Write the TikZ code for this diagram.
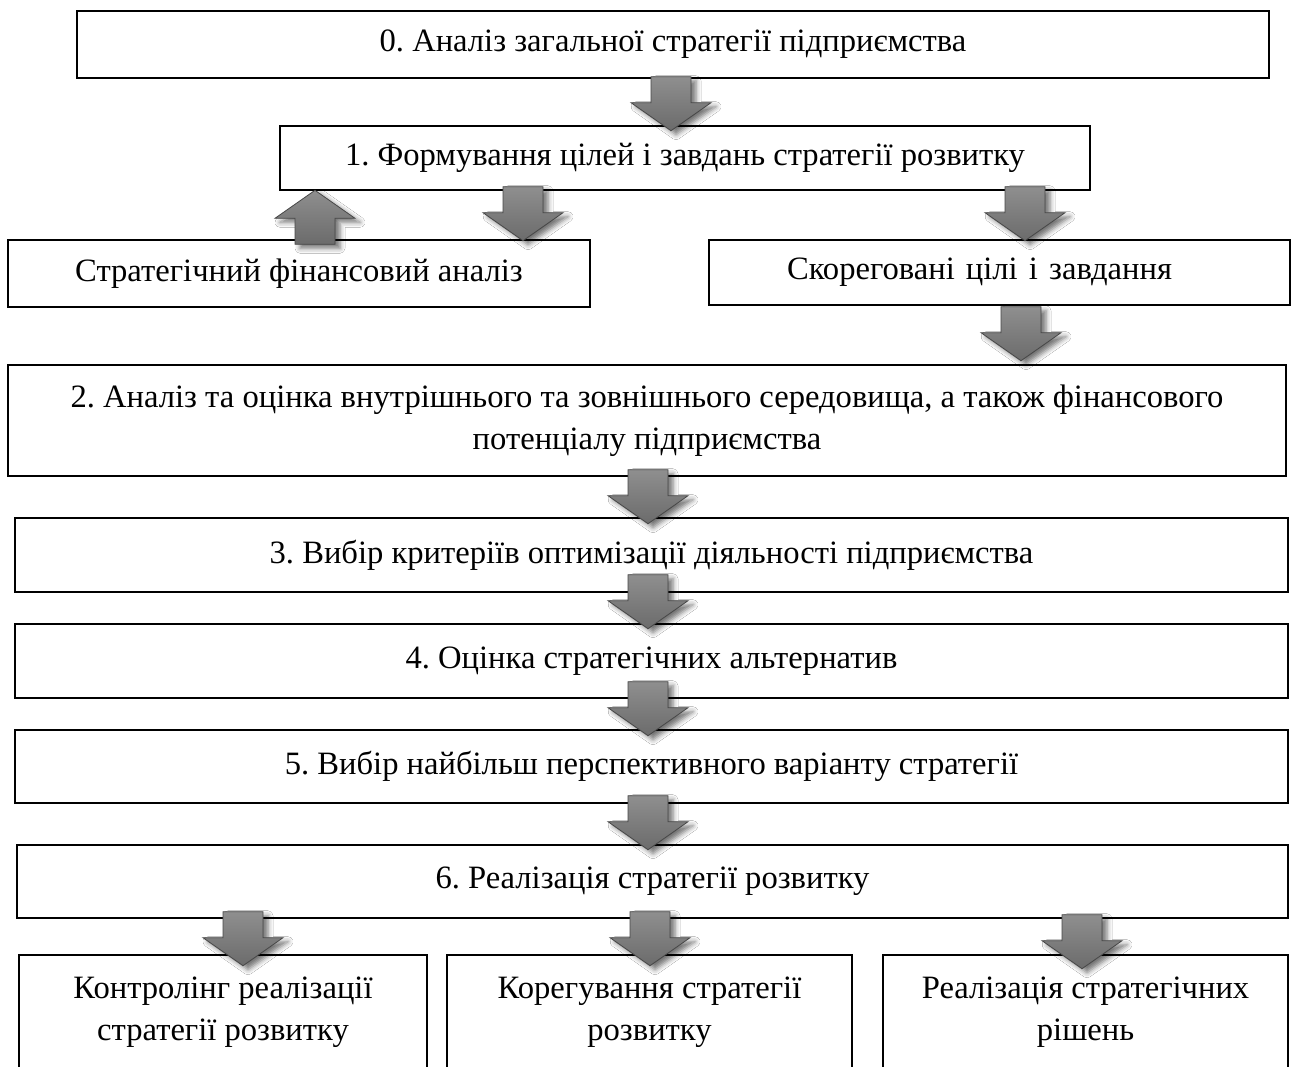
\documentclass[tikz,border=0pt]{standalone}
\usepackage{fontspec}
\setmainfont{Liberation Serif}
\usetikzlibrary{calc,shadows.blur}
\frenchspacing
\begin{document}
\begin{tikzpicture}[x=1pt,y=1pt,
  box/.style={draw=black, line width=2.6pt, fill=white, inner sep=0pt, align=center,
    font=\fontsize{32.6}{42}\selectfont},
  blockarrow/.style={draw=black!72, line width=0.8pt, top color=black!44, bottom color=black!58,
    blur shadow={shadow xshift=5pt, shadow yshift=-4pt, shadow blur radius=5pt, shadow opacity=55}},
  downarr/.pic={\path[blockarrow] (0,0) -- (-40,28) -- (-20,28) -- (-20,54) -- (20,54) -- (20,28) -- (40,28) -- cycle;},
  uparr/.pic={\path[blockarrow] (0,0) -- (-40,-28) -- (-20,-28) -- (-20,-54) -- (20,-54) -- (20,-28) -- (40,-28) -- cycle;}
]
\clip (0,0) rectangle (1297,-1066);
\fill[white] (0,0) rectangle (1297,-1066);

% boxes
\node[box, minimum width=1192, minimum height=67] (b0) at (673,-44.5) {0. Аналіз загальної стратегії підприємства};
\node[box, minimum width=810, minimum height=64] (b1) at (685,-158) {1. Формування цілей і завдань стратегії розвитку};
\node[box, minimum width=582, minimum height=67] (bfa) at (299,-273.5) {Стратегічний фінансовий аналіз};
\node[box, minimum width=581, minimum height=65] (bsc) at (999.5,-272.5) {Скореговані\hspace{3pt} цілі\hspace{3pt} і\hspace{3pt} завдання\hspace{40pt}};
\node[box, minimum width=1278, minimum height=111] (b2) at (647,-420.5) {2. Аналіз та оцінка внутрішнього та зовнішнього середовища, а також фінансового\\потенціалу підприємства};
\node[box, minimum width=1273, minimum height=74] (b3) at (651.5,-555) {3. Вибір критеріїв оптимізації діяльності підприємства};
\node[box, minimum width=1273, minimum height=74] (b4) at (651.5,-661) {4. Оцінка стратегічних альтернатив};
\node[box, minimum width=1273, minimum height=73] (b5) at (651.5,-766.5) {5. Вибір найбільш перспективного варіанту стратегії};
\node[box, minimum width=1271, minimum height=73] (b6) at (652.5,-881.5) {6. Реалізація стратегії розвитку};
\node[box, minimum width=408, minimum height=115] (bc) at (223,-1012.5) {Контролінг реалізації\\стратегії розвитку};
\node[box, minimum width=405, minimum height=115] (bk) at (649.5,-1012.5) {Корегування стратегії\\розвитку};
\node[box, minimum width=405, minimum height=115] (br) at (1085.5,-1012.5) {Реалізація стратегічних\\рішень};

% block arrows
\pic at ($(671,0 |- b1.north)+(0,-6)$) {downarr};
\pic at ($(315,0 |- b1.south)+(0,1)$) {uparr};
\pic at ($(523,0 |- bfa.north)+(0,-2)$) {downarr};
\pic at ($(1025,0 |- bsc.north)+(0,-2)$) {downarr};
\pic at ($(1021,0 |- b2.north)+(0,3)$) {downarr};
\pic at ($(648,0 |- b3.north)+(0,-7)$) {downarr};
\pic at ($(648,0 |- b4.north)+(0,-6)$) {downarr};
\pic at ($(648,0 |- b5.north)+(0,-7)$) {downarr};
\pic at ($(648,0 |- b6.north)+(0,-6)$) {downarr};
\pic at ($(243,0 |- bc.north)+(0,-12)$) {downarr};
\pic at ($(650,0 |- bk.north)+(0,-12)$) {downarr};
\pic at ($(1082,0 |- br.north)+(0,-15)$) {downarr};
\end{tikzpicture}
\end{document}
